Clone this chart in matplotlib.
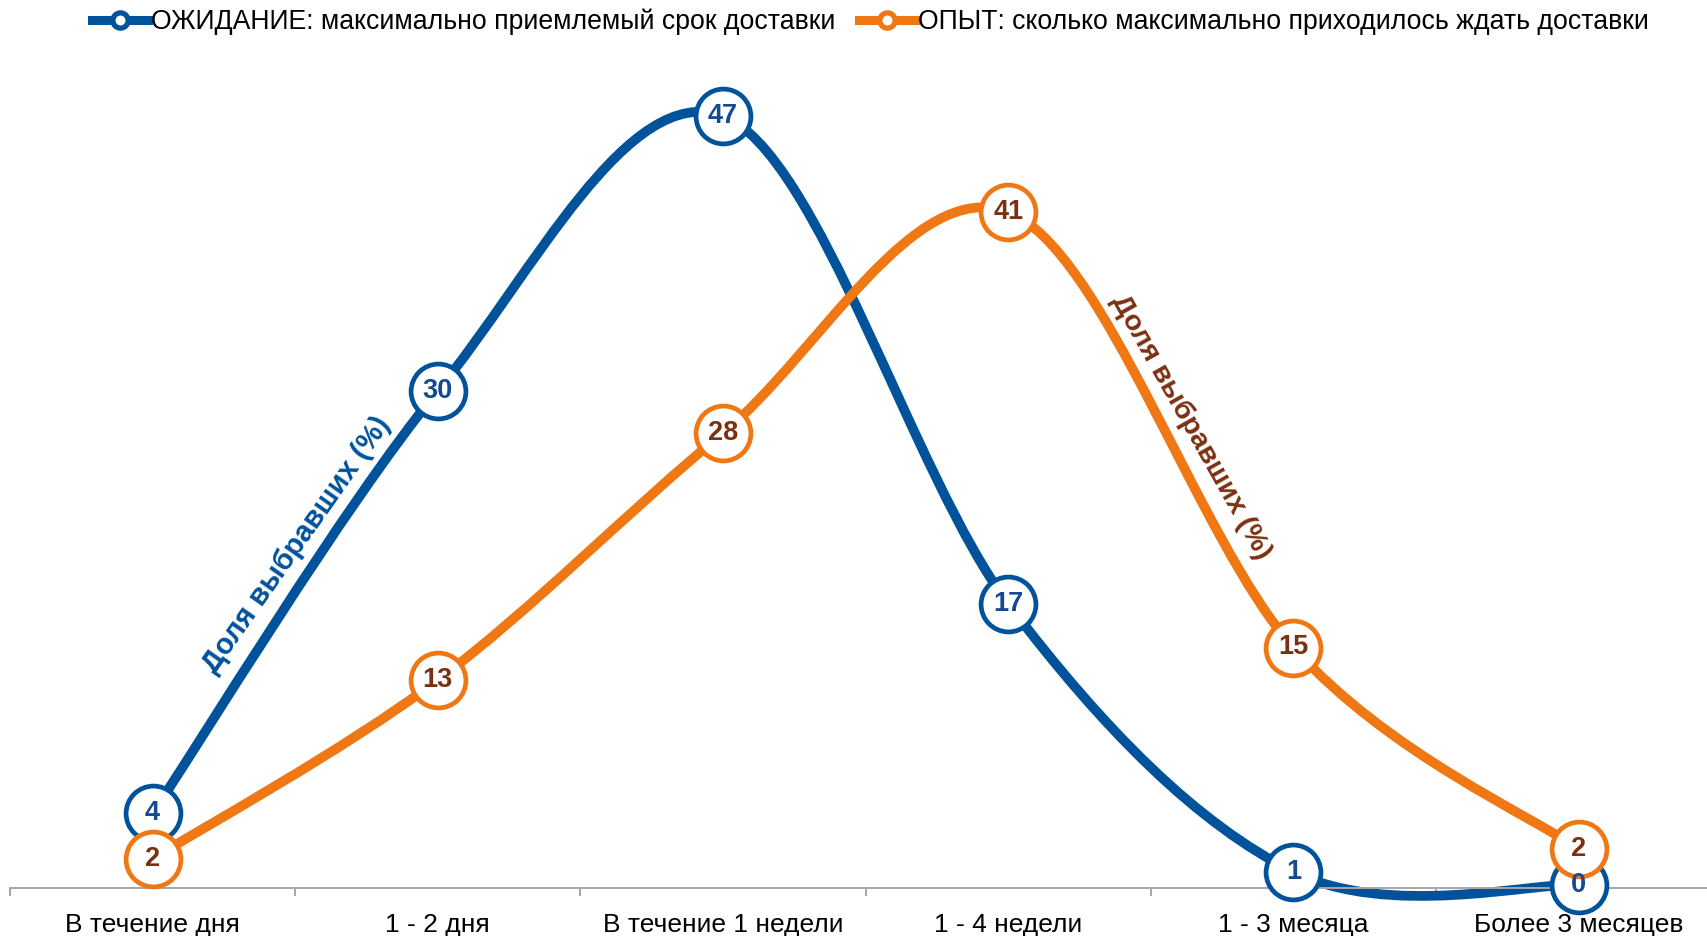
import numpy as np
import matplotlib.pyplot as plt
from matplotlib.path import Path
from matplotlib.patches import PathPatch
from matplotlib.lines import Line2D

plt.rcParams['font.family'] = ['Liberation Sans', 'DejaVu Sans']

categories = ['В течение дня', '1 - 2 дня', 'В течение 1 недели',
              '1 - 4 недели', '1 - 3 месяца', 'Более 3 месяцев']
# values, labels show them rounded
expect = [4.4, 30.4, 47.3, 17.3, 0.8, 0.0]
experience = [1.6, 12.6, 27.8, 41.4, 14.6, 2.2]
names = ['ОЖИДАНИЕ: максимально приемлемый срок доставки',
         'ОПЫТ: сколько максимально приходилось ждать доставки']
axis_title = 'Доля выбравших (%)'

blue = '#00529b'
orange = '#f07814'
blue_txt = '#154a92'
brown_txt = '#7b3011'


def smooth_path(xs, ys):
    # excel-like smoothed line: cubic bezier through every point
    p = np.column_stack([xs, ys]).astype(float)
    n = len(p)
    verts = [p[0]]
    codes = [Path.MOVETO]
    for i in range(n - 1):
        prev = p[i - 1] if i > 0 else p[i]
        nxt = p[i + 2] if i + 2 < n else p[i + 1]
        c1 = p[i] + (p[i + 1] - prev) / 6
        c2 = p[i + 1] - (nxt - p[i]) / 6
        verts += [c1, c2, p[i + 1]]
        codes += [Path.CURVE4] * 3
    return Path(verts, codes)


fig = plt.figure(figsize=(17.07, 9.36), dpi=100)
W, H = 1707, 936
step = 285.2
ax = fig.add_axes([10 / W, 48 / H, 6 * step / W, 50.2 * 16.25 / H])
ax.set_xlim(-0.5, 5.5)
ax.set_ylim(-0.2, 50)

x = np.arange(len(categories))
series = [(expect, blue, blue_txt), (experience, orange, brown_txt)]
for vals, col, tcol in series:
    ax.add_patch(PathPatch(smooth_path(x, vals), facecolor='none',
                           edgecolor=col, lw=7, capstyle='round', zorder=2,
                           clip_on=False))
for vals, col, tcol in series:
    ax.plot(x, vals, ls='none', marker='o', ms=39.5, mfc='white', mec=col,
            mew=3.4, zorder=3, clip_on=False)
    for xi, v in zip(x, vals):
        ax.text(xi, v, f'{round(v):d}', ha='center', va='center',
                fontsize=19.5, fontweight='bold', color=tcol, zorder=4)

ax.text(0.506, 20.9, axis_title, rotation=54.9, rotation_mode='anchor',
        ha='center', va='center', fontsize=21, fontweight='bold', color=blue)
ax.text(3.64, 28.2, axis_title, rotation=-60.6, rotation_mode='anchor',
        ha='center', va='center', fontsize=20.5, fontweight='bold',
        color=brown_txt)

for s in ['top', 'left', 'right']:
    ax.spines[s].set_visible(False)
ax.spines['bottom'].set_color('#a6a6a6')
ax.spines['bottom'].set_linewidth(1.4)
ax.set_yticks([])
ax.set_xticks(np.arange(-0.5, 6, 1))
ax.set_xticklabels([])
ax.set_xticks(x, minor=True)
ax.set_xticklabels(categories, minor=True, fontsize=19)
ax.tick_params(axis='x', which='major', length=6, width=1.4, color='#a6a6a6')
ax.tick_params(axis='x', which='minor', length=0, pad=18)

handles = [Line2D([], [], color=c, lw=6.5, marker='o', ms=11, mfc='white',
                  mec=c, mew=3.8) for c in (blue, orange)]
fig.legend(handles, names, loc='center', bbox_to_anchor=(0.51, 1 - 22 / H),
           ncol=2, frameon=False, fontsize=19.2, handlelength=2.1,
           handletextpad=0.1, columnspacing=0.9, borderaxespad=0)

fig.savefig('out.png', dpi=100)
